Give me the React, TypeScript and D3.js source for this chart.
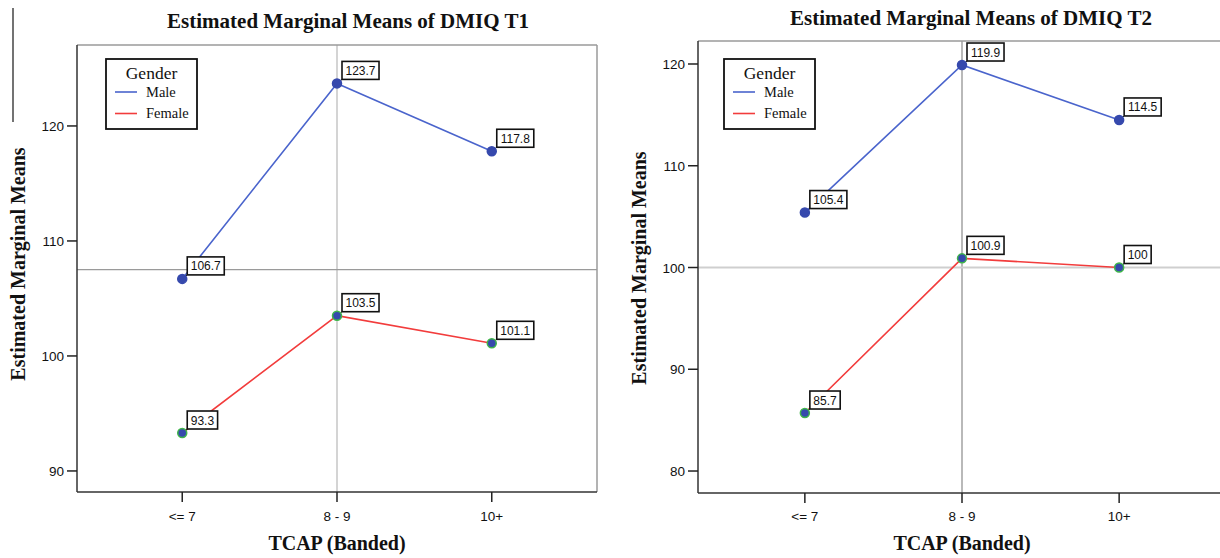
import React from "react";
import * as d3 from "d3";

const categories = ["<= 7", "8 - 9", "10+"];
const t1Male = [106.7, 123.7, 117.8];
const t1Female = [93.3, 103.5, 101.1];
const t2Male = [105.4, 119.9, 114.5];
const t2Female = [85.7, 100.9, 100];
const t1Ticks = [90, 100, 110, 120];
const t2Ticks = [80, 90, 100, 110, 120];
const t1RefLine = 107.5;
const t2RefLine = 100;
const seriesNames = ["Male", "Female"];

const SERIF = "'Liberation Serif', 'Times New Roman', serif";
const SANS = "'Liberation Sans', Arial, sans-serif";
const MALE_LINE = "#4a64cc";
const FEMALE_LINE = "#f23c3c";
const MARKER_FILL = "#3649ad";
const FEMALE_MARKER_STROKE = "#3fb54a";

function labelWidth(s: string, fs: number) {
  let w = 0;
  for (const c of s) w += c === "." ? 0.278 : 0.556;
  return w * fs;
}

type PanelProps = {
  title: string;
  male: number[];
  female: number[];
  ticks: number[];
  refLine: number;
  left: number;
  right: number;
  top: number;
  bottom: number;
  yDomain: [number, number];
  titleX: number;
  titleY: number;
  yTitleX: number;
  yTitleY: number;
  legendX: number;
  vGridColor: string;
  hGridColor: string;
  hGridWidth: number;
  vGridWidth: number;
};

function Panel(p: PanelProps) {
  const x = d3.scalePoint<string>().domain(categories).range([p.left, p.right]).padding(0.68);
  const y = d3.scaleLinear().domain(p.yDomain).range([p.bottom, p.top]);
  const line = d3
    .line<number>()
    .x((_, i) => x(categories[i]) as number)
    .y((d) => y(d));
  const fsLab = 12;
  const series = [
    { name: seriesNames[0], vals: p.male, color: MALE_LINE, mstroke: MARKER_FILL },
    { name: seriesNames[1], vals: p.female, color: FEMALE_LINE, mstroke: FEMALE_MARKER_STROKE },
  ];
  const lx = p.legendX;
  const ly = 59;
  return (
    <g>
      <text x={p.titleX} y={p.titleY} textAnchor="middle" fontFamily={SERIF} fontWeight="bold" fontSize={21} fill="#111">
        {p.title}
      </text>
      {/* gridlines */}
      <line x1={x(categories[1])} x2={x(categories[1])} y1={p.top} y2={p.bottom} stroke={p.vGridColor} strokeWidth={p.vGridWidth} />
      <line x1={p.left} x2={p.right} y1={y(p.refLine)} y2={y(p.refLine)} stroke={p.hGridColor} strokeWidth={p.hGridWidth} />
      {/* frame */}
      <line x1={p.left} x2={p.right} y1={p.top} y2={p.top} stroke="#9a9a9a" strokeWidth={1.5} />
      <line x1={p.right} x2={p.right} y1={p.top} y2={p.bottom} stroke="#9a9a9a" strokeWidth={1.5} />
      <line x1={p.left} x2={p.left} y1={p.top} y2={p.bottom} stroke="#333" strokeWidth={1.5} />
      <line x1={p.left} x2={p.right} y1={p.bottom} y2={p.bottom} stroke="#333" strokeWidth={1.5} />
      {/* y ticks */}
      {p.ticks.map((t) => (
        <g key={"y" + t}>
          <line x1={p.left - 10} x2={p.left} y1={y(t)} y2={y(t)} stroke="#222" strokeWidth={1.5} />
          <text x={p.left - 13} y={y(t) + 5} textAnchor="end" fontFamily={SANS} fontSize={13.5} fill="#111">
            {t}
          </text>
        </g>
      ))}
      {/* x ticks */}
      {categories.map((c) => (
        <g key={"x" + c}>
          <line x1={x(c)} x2={x(c)} y1={p.bottom} y2={p.bottom + 10} stroke="#222" strokeWidth={1.5} />
          <text x={x(c)} y={521} textAnchor="middle" fontFamily={SANS} fontSize={13.5} fill="#111">
            {c}
          </text>
        </g>
      ))}
      <text x={x(categories[1])} y={550} textAnchor="middle" fontFamily={SERIF} fontWeight="bold" fontSize={20} fill="#111">
        TCAP (Banded)
      </text>
      <text
        transform={`translate(${p.yTitleX},${p.yTitleY}) rotate(-90)`}
        textAnchor="middle"
        fontFamily={SERIF}
        fontWeight="bold"
        fontSize={20}
        fill="#111"
      >
        Estimated Marginal Means
      </text>
      {/* lines */}
      {series.map((s) => (
        <path key={"l" + s.name} d={line(s.vals) || ""} fill="none" stroke={s.color} strokeWidth={1.6} />
      ))}
      {/* labels */}
      {series.map((s) =>
        s.vals.map((v, i) => {
          const px = x(categories[i]) as number;
          const py = y(v);
          const txt = String(v);
          const w = labelWidth(txt, fsLab) + 7;
          const h = 18;
          const bx = px + 5;
          const by = py - 4 - h;
          return (
            <g key={"lab" + s.name + i}>
              <line x1={px} y1={py} x2={bx} y2={py - 4} stroke="#222" strokeWidth={1} />
              <rect x={bx} y={by} width={w} height={h} fill="#fff" stroke="#111" strokeWidth={1.6} />
              <text x={bx + w / 2} y={by + 13.5} textAnchor="middle" fontFamily={SANS} fontSize={fsLab} fill="#111">
                {txt}
              </text>
            </g>
          );
        })
      )}
      {/* markers */}
      {series.map((s) =>
        s.vals.map((v, i) => (
          <circle key={"m" + s.name + i} cx={x(categories[i])} cy={y(v)} r={4.5} fill={MARKER_FILL} stroke={s.mstroke} strokeWidth={1.5} />
        ))
      )}
      {/* legend */}
      <rect x={lx} y={ly} width={91} height={70} fill="#fff" stroke="#111" strokeWidth={1.8} />
      <text x={lx + 45.5} y={ly + 19.5} textAnchor="middle" fontFamily={SERIF} fontSize={17.5} fill="#111">
        Gender
      </text>
      {series.map((s, i) => (
        <g key={"lg" + s.name}>
          <line x1={lx + 9} x2={lx + 31} y1={ly + 33 + i * 21.5} y2={ly + 33 + i * 21.5} stroke={s.color} strokeWidth={1.6} />
          <text x={lx + 40} y={ly + 38 + i * 20.5} fontFamily={SERIF} fontSize={14.5} fill="#111">
            {s.name}
          </text>
        </g>
      ))}
    </g>
  );
}

export default function App() {
  return (
    <svg width={1220} height={558} style={{ position: "absolute", left: 0, top: 0, background: "#fff" }}>
      <rect x={0} y={0} width={1220} height={558} fill="#fff" />
      <line x1={13} x2={13} y1={8} y2={122} stroke="#444" strokeWidth={1.5} />
      <Panel
        title="Estimated Marginal Means of DMIQ T1"
        male={t1Male}
        female={t1Female}
        ticks={t1Ticks}
        refLine={t1RefLine}
        left={77}
        right={597}
        top={45}
        bottom={492}
        yDomain={[88.17, 127.04]}
        titleX={348}
        titleY={28}
        yTitleX={25}
        yTitleY={264}
        legendX={106}
        vGridColor="#d4d4d4"
        hGridColor="#9a9a9a"
        hGridWidth={1.2}
        vGridWidth={2}
      />
      <Panel
        title="Estimated Marginal Means of DMIQ T2"
        male={t2Male}
        female={t2Female}
        ticks={t2Ticks}
        refLine={t2RefLine}
        left={698}
        right={1226}
        top={41}
        bottom={493}
        yDomain={[77.84, 122.26]}
        titleX={971}
        titleY={25}
        yTitleX={646}
        yTitleY={268}
        legendX={724}
        vGridColor="#8a8a8a"
        hGridColor="#cfcfcf"
        hGridWidth={2}
        vGridWidth={1.2}
      />
    </svg>
  );
}
